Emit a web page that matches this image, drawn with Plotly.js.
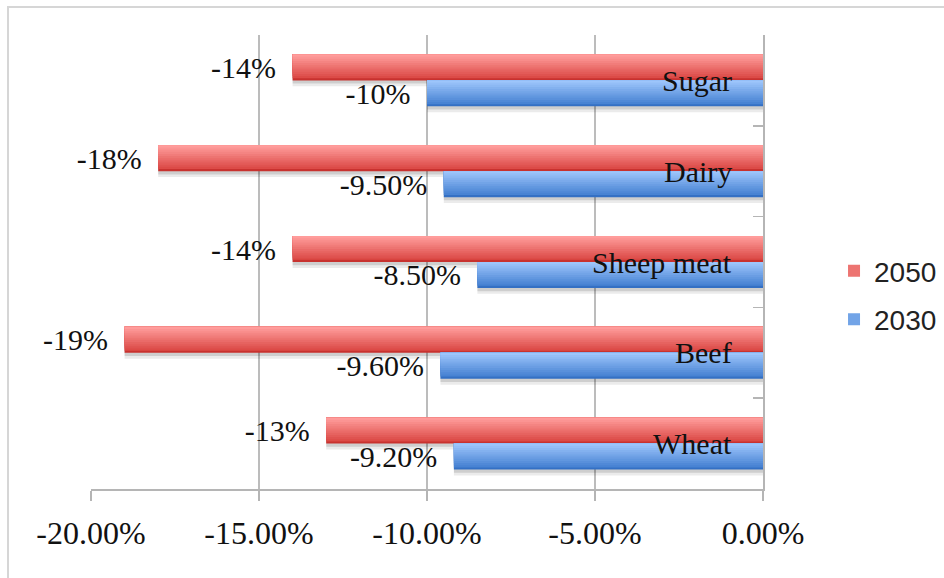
<!DOCTYPE html>
<html>
<head>
<meta charset="utf-8">
<script src="https://cdn.plot.ly/plotly-3.0.1.min.js"></script>
<style>
  html, body { margin:0; padding:0; background:#fff; overflow:hidden; }
  #chart { width:944px; height:578px; position:absolute; left:0; top:0; }
  #frame { position:absolute; left:7px; top:6px; width:960px; height:600px;
           border:2px solid #d6d6d6; pointer-events:none; box-sizing:border-box; }
</style>
</head>
<body>
<div id="chart"></div>
<div id="frame"></div>
<script>
// ---- data ----
const categories = ['Wheat', 'Beef', 'Sheep meat', 'Dairy', 'Sugar'];
const values2050 = [-13, -19, -14, -18, -14];
const values2030 = [-9.2, -9.6, -8.5, -9.5, -10];
const labels2050 = ['-13%', '-19%', '-14%', '-18%', '-14%'];
const labels2030 = ['-9.20%', '-9.60%', '-8.50%', '-9.50%', '-10%'];
const xTickVals = [-20, -15, -10, -5, 0];
const xTickText = ['-20.00%', '-15.00%', '-10.00%', '-5.00%', '0.00%'];

// ---- styling ----
const W = 0.286;           // bar thickness in category units
const serif = 'Liberation Serif, Times New Roman, serif';
const NL = 12;             // gradient layers

function hex(c) { return [parseInt(c.slice(1,3),16), parseInt(c.slice(3,5),16), parseInt(c.slice(5,7),16)]; }
function mix(a, b, t) {
  const A = hex(a), B = hex(b);
  return 'rgb(' + A.map((v, i) => Math.round(v + (B[i] - v) * t)).join(',') + ')';
}

const traces = [];
function shadow(vals, topOffset, alpha, shift) {
  traces.push({
    type: 'bar', orientation: 'h', x: vals, y: categories,
    offset: topOffset - W - shift, width: W,
    marker: { color: 'rgba(0,0,0,' + alpha + ')', line: { width: 0 } },
    showlegend: false, hoverinfo: 'skip', cliponaxis: false
  });
}
shadow(values2050, W, 0.08, 0.065);
shadow(values2050, W, 0.12, 0.035);
shadow(values2030, 0, 0.08, 0.065);
shadow(values2030, 0, 0.12, 0.035);

function series(vals, labels, name, dark, mid, light, topOffset, group) {
  for (let i = 0; i < NL; i++) {
    const f = 1 - i / NL;              // fraction of thickness, anchored at top
    const t = i / (NL - 1);            // 0 = bottom (dark), 1 = top (light)
    const col = i === 0 ? dark : mix(mid, light, t);
    const tr = {
      type: 'bar', orientation: 'h', x: vals, y: categories,
      offset: topOffset - W * f, width: W * f,
      marker: { color: col, line: { width: 0 } },
      name: name, legendgroup: group, showlegend: false,
      hoverinfo: 'skip', cliponaxis: false
    };
    if (i === 0) {
      tr.text = labels;
      tr.texttemplate = '%{text}\u00a0\u2009';
      tr.textposition = 'outside';
      tr.constraintext = 'none';
      tr.textfont = { family: serif, size: 30, color: '#111' };
    }
    if (i === Math.floor(NL / 2)) tr.showlegend = true;
    traces.push(tr);
  }
}
series(values2050, labels2050, '2050', '#c8322f', '#d8433f', '#ff9c9b', W, 'g2050');
series(values2030, labels2030, '2030', '#3470c4', '#3f7ccf', '#9dc5fb', 0, 'g2030');

const annotations = categories.map(c => ({
  x: 0, y: c, xref: 'x', yref: 'y', xanchor: 'right', yanchor: 'middle',
  xshift: -29, yshift: 0, showarrow: false, text: c,
  font: { family: serif, size: 30, color: '#111' }
}));

const layout = {
  width: 944, height: 578,
  margin: { l: 91, r: 181, t: 35, b: 89, autoexpand: false },
  paper_bgcolor: '#fff', plot_bgcolor: '#fff',
  barmode: 'overlay',
  showlegend: true,
  annotations: annotations,
  xaxis: {
    range: [-20, 0], tickvals: xTickVals, ticktext: xTickText,
    showgrid: true, gridcolor: '#bcbcbc', gridwidth: 1.5,
    zeroline: false, showline: true, linecolor: '#b5b5b5', linewidth: 2,
    ticks: 'outside', ticklen: 10, tickcolor: '#b5b5b5', tickwidth: 1.5,
    ticklabelstandoff: 5,
    tickfont: { family: serif, size: 32, color: '#111' },
    fixedrange: true
  },
  yaxis: {
    type: 'category', range: [-0.5, 4.5], side: 'right',
    showgrid: false, zeroline: false, showline: true,
    linecolor: '#b5b5b5', linewidth: 2,
    ticks: 'inside', ticklen: 10, tickcolor: '#b5b5b5', tickwidth: 1.5,
    tickson: 'boundaries', showticklabels: false,
    fixedrange: true
  },
  legend: {
    x: 1.1057, xanchor: 'left', y: 0.427, yanchor: 'middle',
    traceorder: 'grouped', tracegroupgap: 9,
    font: { family: 'Liberation Sans, Arial, sans-serif', size: 28, color: '#222' },
    bgcolor: 'rgba(0,0,0,0)'
  }
};

Plotly.newPlot('chart', traces, layout, { displayModeBar: false, staticPlot: true });
</script>
</body>
</html>
